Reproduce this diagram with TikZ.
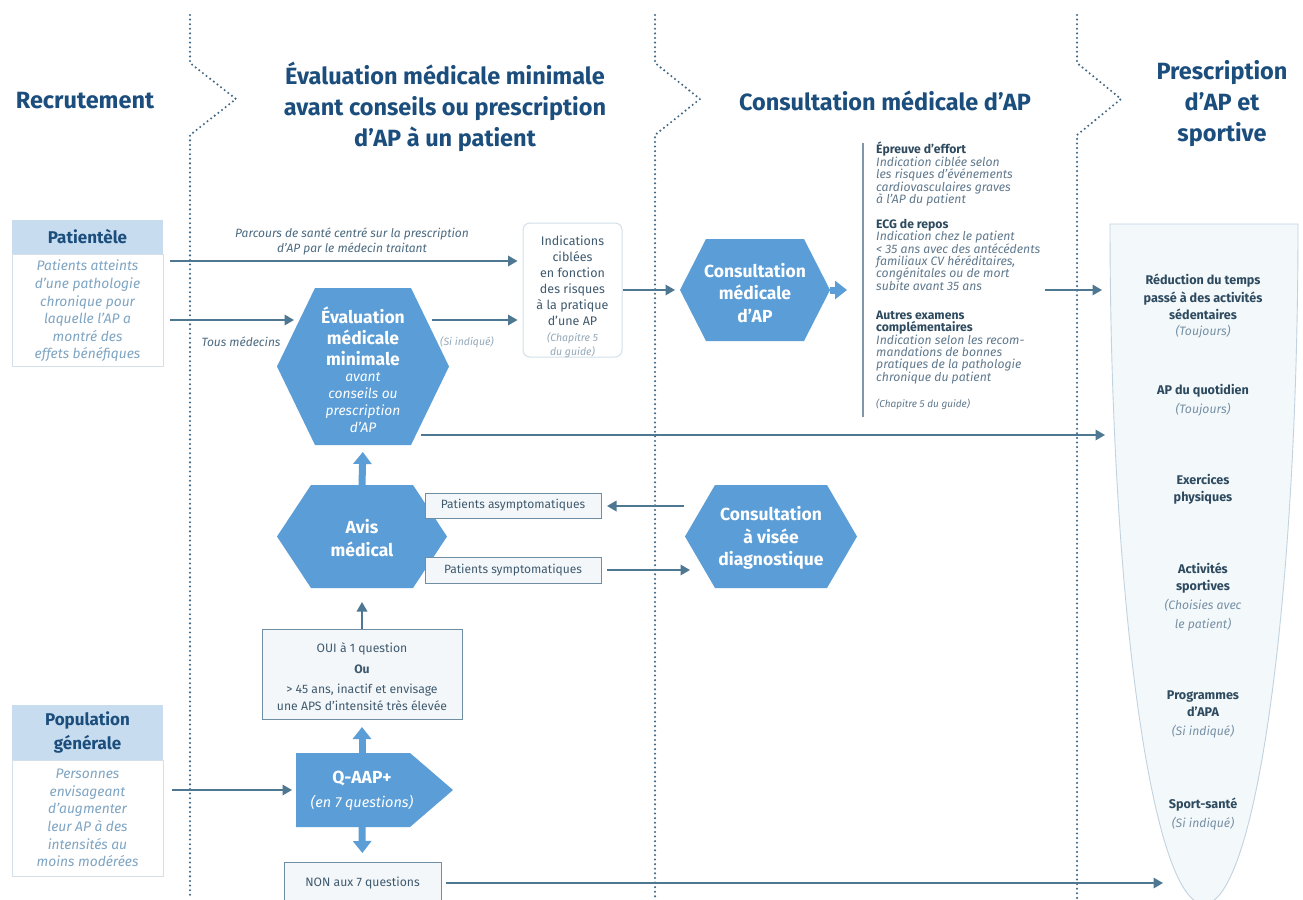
\documentclass[tikz,border=0pt]{standalone}
\usepackage{fontspec}
\setmainfont{Fira Sans}
\usetikzlibrary{arrows.meta,calc}
\definecolor{hdc}{HTML}{1C4E7D}
\definecolor{hexc}{HTML}{5B9DD6}
\definecolor{arc}{HTML}{4E7791}
\definecolor{sepc}{HTML}{3F6685}
\definecolor{hboxc}{HTML}{C7DCEF}
\definecolor{lbord}{HTML}{D3E0EA}
\definecolor{ltxt}{HTML}{7FA5C3}
\definecolor{dtxt}{HTML}{3F5A6E}
\definecolor{ltxt2}{HTML}{4C6A80}
\definecolor{gtxt}{HTML}{94A9B9}
\definecolor{gbord}{HTML}{6F8EA3}
\definecolor{gfill}{HTML}{F3F7FA}
\definecolor{funf}{HTML}{F3F8FB}
\definecolor{funb}{HTML}{C2D3DF}
\definecolor{fbold}{HTML}{2E4A5F}
\definecolor{fital}{HTML}{7690A5}
\definecolor{rital}{HTML}{60798D}
\definecolor{rulec}{HTML}{7F97A8}
\newcommand{\fsz}[2]{\fontsize{#1}{#2}\selectfont}
\newcommand{\hexbg}[2]{\fill[hexc] ([xshift=#2pt]#1.north west) -- ([xshift=-#2pt]#1.north east) -- (#1.east) -- ([xshift=-#2pt]#1.south east) -- ([xshift=#2pt]#1.south west) -- (#1.west) -- cycle;}
\newcommand{\rl}[3]{\node[#1, anchor=base west] (#2) at (876,#3)}
\tikzset{
  sepline/.style={sepc, line width=2.3pt, dash pattern=on 0pt off 4.6pt, line cap=round, line join=round},
  arr/.style={arc, line width=1.8pt, -{Triangle[length=9.5pt,width=10.5pt]}},
  fatarr/.style={hexc, line width=7pt, -{Triangle[length=12pt,width=18pt]}},
  hdr/.style={font=\fsz{23.5}{31}\bfseries, text=hdc, align=center, inner sep=0pt},
  hexa/.style n args={2}{shape=rectangle, minimum width=#1pt, minimum height=#2pt, inner sep=0pt, outer sep=0pt},
  hexbold/.style={font=\fsz{17.5}{22.5}\bfseries, text=white, align=center, inner sep=0pt},
  hbox/.style={fill=hboxc, minimum width=151pt, inner sep=0pt, outer sep=0pt, font=\fsz{17}{24}\bfseries, text=hdc, align=center},
  bbox/.style={draw=lbord, fill=white, line width=1pt, minimum width=151pt, inner sep=0pt, outer sep=0pt},
  itl/.style={font=\fsz{13.8}{17.6}\itshape, text=ltxt, align=center, inner sep=0pt},
  lab/.style={font=\fsz{12}{15}\itshape, text=ltxt2, align=center, inner sep=0pt},
  gbox/.style={draw=gbord, fill=gfill, line width=1pt, inner sep=0pt, outer sep=0pt, font=\fsz{12}{17}, text=dtxt, align=center},
  rbold/.style={font=\fsz{12.2}{12.6}\bfseries, text=fbold, inner sep=0pt},
  rital/.style={font=\fsz{12.2}{12.6}\itshape, text=rital, inner sep=0pt},
  fb/.style={font=\fsz{12.6}{17.2}\bfseries, text=fbold, align=center, inner sep=0pt},
  fi/.style={font=\fsz{12.2}{18.5}\itshape, text=fital, align=center, inner sep=0pt},
}
\begin{document}
\begin{tikzpicture}[x=1pt,y=-1pt]
\useasboundingbox[fill=white] (0,0) rectangle (1303,899);

% ---------- separators ----------
\draw[sepline] (190,15) -- (190,63) -- (236,99) -- (190,135) -- (190,899);
\draw[sepline] (655,15) -- (655,63) -- (700,99) -- (655,135) -- (655,899);
\draw[sepline] (1077,15) -- (1077,63) -- (1121,99) -- (1077,135) -- (1077,899);

% ---------- headers ----------
\node[hdr] (hRec) at (85,101) {Recrutement};
\node[hdr] (hEval) at (445,107) {Évaluation médicale minimale\\avant conseils ou prescription\\d’AP à un patient};
\node[hdr] (hCons) at (885,101) {Consultation médicale d’AP};
\node[hdr] (hPres) at (1222,104) {Prescription\\d’AP et\\sportive};

% ---------- funnel ----------
\path[draw=funb, fill=funf, line width=0.9pt] (1110,224) -- (1298,224) arc[start angle=0, end angle=180, x radius=94, y radius=680] -- cycle;
\node[fb] (f1b) at (1203,297) {Réduction du temps\\passé à des activités\\sédentaires};
\node[fi] (f1i) at (1203,332) {(Toujours)};
\node[fb] (f2b) at (1203,391) {AP du quotidien};
\node[fi] (f2i) at (1203,410) {(Toujours)};
\node[fb] (f3b) at (1203,489) {Exercices\\physiques};
\node[fb] (f4b) at (1203,578) {Activités\\sportives};
\node[fi] (f4i) at (1203,615) {(Choisies avec\\le patient)};
\node[fb] (f5b) at (1203,704) {Programmes\\d’APA};
\node[fi] (f5i) at (1203,732) {(Si indiqué)};
\node[fb] (f6b) at (1203,805) {Sport-santé};
\node[fi] (f6i) at (1203,824) {(Si indiqué)};
\coordinate (funIn1) at (1102,290);
\coordinate (funIn2) at (1105,435);
\coordinate (funIn3) at (1163,883);

% ---------- Patientele ----------
\node[hbox, minimum height=34pt] (patH) at (87.5,237) {Patientèle};
\node[bbox, minimum height=112pt, anchor=north] (patB) at (patH.south) {};
\node[itl] (patT) at (87.5,311) {Patients atteints\\d’une pathologie\\chronique pour\\laquelle l’AP a\\montré des\\effets bénéfiques};

% ---------- Population generale ----------
\node[hbox, minimum height=55pt] (popH) at (87.5,732.5) {Population\\générale};
\node[bbox, minimum height=116pt, anchor=north] (popB) at (popH.south) {};
\node[itl] (popT) at (87.5,818) {Personnes\\envisageant\\d’augmenter\\leur AP à des\\intensités au\\moins modérées};

% ---------- Indications ----------
\node[draw=lbord, fill=white, line width=1pt, rounded corners=7pt, minimum width=99pt, minimum height=134pt, inner sep=0pt] (indic) at (572.5,290) {};
\node[font=\fsz{12.5}{16}, text=dtxt, align=center, inner sep=0pt] (indT) at (572.5,281) {Indications\\ciblées\\en fonction\\des risques\\à la pratique\\d’une AP};
\node[font=\fsz{10.5}{14}\itshape, text=gtxt, align=center, inner sep=0pt] (indC) at (572.5,345) {(Chapitre 5\\du guide)};

% ---------- hexagons ----------
\node[hexa={172}{157}] (evalH) at (363,366.5) {};
\hexbg{evalH}{38}
\node[hexbold, font=\fsz{17.5}{21}\bfseries] (evalT) at (363,336) {Évaluation\\médicale\\minimale};
\node[font=\fsz{13.8}{17}\itshape, text=white, align=center, inner sep=0pt] (evalS) at (363,403) {avant\\conseils ou\\prescription\\d’AP};

\node[hexa={170}{103}] (avisH) at (362,536.5) {};
\hexbg{avisH}{34}
\node[hexbold] (avisT) at (362,538) {Avis\\médical};

\node[hexa={150}{102}] (cmH) at (755,290) {};
\hexbg{cmH}{26}
\node[hexbold] (cmT) at (755,293) {Consultation\\médicale\\d’AP};

\node[hexa={172}{103}] (dgH) at (771,536.5) {};
\hexbg{dgH}{30}
\node[hexbold] (dgT) at (771,538) {Consultation\\à visée\\diagnostique};

% Q-AAP+
\node[hexa={157}{74}] (qH) at (374.5,790) {};
\fill[hexc] (qH.north west) -- ([xshift=-43pt]qH.north east) -- (qH.east) -- ([xshift=-43pt]qH.south east) -- (qH.south west) -- cycle;
\node[font=\fsz{17.5}{22}\bfseries, text=white, inner sep=0pt] (qT) at (362,779) {Q-AAP+};
\node[font=\fsz{14.5}{18}\itshape, text=white, inner sep=0pt] (qS) at (362,803) {(en 7 questions)};

% ---------- grey boxes ----------
\node[gbox, minimum width=176pt, minimum height=25pt] (pa) at (513,505.5) {Patients asymptomatiques};
\node[gbox, minimum width=176pt, minimum height=26pt] (ps) at (513,570) {Patients symptomatiques};
\node[gbox, minimum width=200pt, minimum height=90pt] (oui) at (362,674) {};
\node[font=\fsz{12.2}{17}, text=dtxt, align=center, inner sep=0pt] (ouiT) at (362,677) {OUI à 1 question\\[4pt]\textbf{Ou}\\[3pt]> 45 ans, inactif et envisage\\une APS d’intensité très élevée};
\node[gbox, minimum width=157pt, minimum height=46pt] (non) at (362.5,885) {};
\node[font=\fsz{12.2}{17}, text=dtxt, inner sep=0pt] (nonT) at (362.5,883) {NON aux 7 questions};

% ---------- right column ----------
\draw[rulec, line width=1.2pt] (863,143) -- (863,417);
\rl{rbold}{r1}{153.5}{Épreuve d’effort};
\rl{rital}{r2}{166.5}{Indication ciblée selon};
\rl{rital}{r3}{178.8}{les risques d’événements};
\rl{rital}{r4}{191.1}{cardiovasculaires graves};
\rl{rital}{r5}{203.4}{à l’AP du patient};
\rl{rbold}{r6}{228.5}{ECG de repos};
\rl{rital}{r7}{240.8}{Indication chez le patient};
\rl{rital}{r8}{253.1}{< 35 ans avec des antécédents};
\rl{rital}{r9}{265.4}{familiaux CV héréditaires,};
\rl{rital}{r10}{277.7}{congénitales ou de mort};
\rl{rital}{r11}{290}{subite avant 35 ans};
\rl{rbold}{r12}{319.5}{Autres examens};
\rl{rbold}{r13}{331.8}{complémentaires};
\rl{rital}{r14}{344.1}{Indication selon les recom-};
\rl{rital}{r15}{356.4}{mandations de bonnes};
\rl{rital}{r16}{368.7}{pratiques de la pathologie};
\rl{rital}{r17}{381}{chronique du patient};
\node[font=\fsz{10}{12}\itshape, text=rital, inner sep=0pt, anchor=base west] (r18) at (876,407.5) {(Chapitre 5 du guide)};

% ---------- labels ----------
\node[lab] (labP) at (352,241) {Parcours de santé centré sur la prescription\\d’AP par le médecin traitant};
\node[lab] (labT) at (241,342) {Tous médecins};
\node[font=\fsz{10.5}{12}\itshape, text=gtxt, inner sep=0pt] (labS) at (467,342) {(Si indiqué)};

% ---------- connectors ----------
\coordinate (p1) at (170,261);
\coordinate (p2) at (170,320);
\coordinate (p3) at (172,790);
\coordinate (evIn) at (294,320);
\coordinate (evOut) at (432,320);
\coordinate (evOut2) at (421,435);
\coordinate (rcOut) at (1045,290);
\coordinate (cmOut) at (847,290);
\coordinate (dgOut) at (684,506);
\coordinate (dgIn) at (690,570);
\coordinate (qTop) at (362,753);
\coordinate (qBot) at (362,827);

\draw[arr, shorten >=5pt] (p1) -- (p1 -| indic.west);
\draw[arr] (p2) -- (evIn);
\draw[arr, shorten >=5pt] (evOut) -- (evOut -| indic.west);
\draw[arr, shorten >=5pt] (indic.east) -- (cmH.west);
\draw[fatarr] (cmH.east) -- (cmOut);
\draw[arr] (rcOut) -- (funIn1);
\draw[arr] (evOut2) -- (funIn2);
\draw[fatarr, shorten >=7pt] (avisH.north) -- (evalH.south);
\draw[arr, shorten >=6pt] (dgOut) -- (dgOut -| pa.east);
\draw[arr, shorten <=6pt] (ps.east) -- (dgIn);
\draw[arr, shorten >=14pt] (oui.north) -- (avisH.south);
\draw[fatarr, shorten >=8pt] (qTop) -- (oui.south);
\draw[fatarr, shorten >=9pt] (qBot) -- (non.north);
\draw[arr, shorten >=4pt] (p3) -- (p3 -| qH.west);
\draw[arr, shorten <=5pt] (non.east |- funIn3) -- (funIn3);
\end{tikzpicture}
\end{document}
